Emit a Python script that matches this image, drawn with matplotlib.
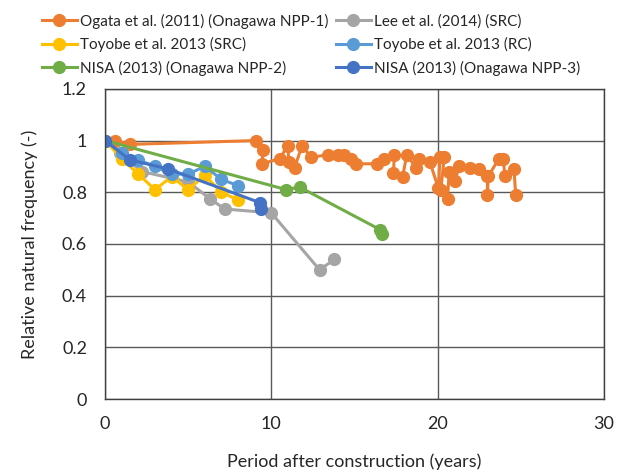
import matplotlib.pyplot as plt

# Ogata et al. (2011), Onagawa NPP-1
ogata_x = [0.6, 1.5, 9.1, 9.5, 9.45, 10.5, 11.0, 11.05, 11.4, 11.85, 12.4, 13.4, 14.0, 14.4,
           14.8, 15.1, 16.35, 16.8, 17.4, 17.35, 17.9, 18.15, 18.7, 18.9, 19.55, 20.05,
           20.15, 20.4, 20.2, 20.6, 20.7, 21.05, 21.3, 21.95, 22.5, 23.0, 23.0, 23.05,
           23.7, 23.95, 24.05, 24.6, 24.7]
ogata_y = [1.0, 0.985, 1.0, 0.965, 0.91, 0.93, 0.98, 0.915, 0.895, 0.98, 0.935, 0.945, 0.945, 0.945,
           0.93, 0.91, 0.91, 0.93, 0.945, 0.875, 0.86, 0.945, 0.895, 0.93, 0.915, 0.815,
           0.935, 0.935, 0.81, 0.775, 0.88, 0.845, 0.9, 0.895, 0.89, 0.862, 0.79, 0.862,
           0.93, 0.93, 0.862, 0.89, 0.79]

# Lee et al. (2014), SRC
lee_x = [0, 0.9, 2.2, 5.0, 6.3, 7.2, 10.0, 12.9, 13.8]
lee_y = [1.0, 0.95, 0.88, 0.84, 0.775, 0.735, 0.72, 0.50, 0.54]

# Toyobe et al. 2013
toyobe_src_x = [0, 1, 2, 3, 4, 5, 6, 7, 8]
toyobe_src_y = [1.0, 0.93, 0.87, 0.81, 0.86, 0.81, 0.865, 0.80, 0.77]
toyobe_rc_x = [0, 1, 2, 3, 4, 5, 6, 7, 8]
toyobe_rc_y = [1.0, 0.95, 0.925, 0.90, 0.87, 0.87, 0.90, 0.85, 0.825]

# NISA (2013), Onagawa NPP-2 and NPP-3
nisa2_x = [0, 10.9, 11.7, 16.55, 16.65]
nisa2_y = [1.0, 0.81, 0.82, 0.655, 0.64]
nisa3_x = [0, 1.5, 3.8, 9.3, 9.4]
nisa3_y = [1.0, 0.925, 0.89, 0.76, 0.735]

plt.rcParams['font.family'] = ['Lato', 'DejaVu Sans']

fig = plt.figure(figsize=(6.18, 4.75), dpi=100)
ax = fig.add_axes([0.170, 0.160, 0.807, 0.653])

style = dict(marker='o', markersize=8.5, linewidth=2.2)
h_ogata, = ax.plot(ogata_x, ogata_y, color='#ED7D31', label='Ogata et al. (2011) (Onagawa NPP-1)', **style)
h_lee, = ax.plot(lee_x, lee_y, color='#A5A5A5', label='Lee et al. (2014) (SRC)', **style)
h_tsrc, = ax.plot(toyobe_src_x, toyobe_src_y, color='#FFC000', label='Toyobe et al. 2013 (SRC)', **style)
h_trc, = ax.plot(toyobe_rc_x, toyobe_rc_y, color='#5B9BD5', label='Toyobe et al. 2013 (RC)', **style)
h_n2, = ax.plot(nisa2_x, nisa2_y, color='#70AD47', label='NISA (2013) (Onagawa NPP-2)', **style)
h_n3, = ax.plot(nisa3_x, nisa3_y, color='#4472C4', label='NISA (2013) (Onagawa NPP-3)', **style)

ax.set_xlim(0, 30)
ax.set_ylim(0, 1.2)
ax.set_xticks([0, 10, 20, 30])
ax.set_yticks([0, 0.2, 0.4, 0.6, 0.8, 1.0, 1.2])
ax.set_yticklabels(['0', '0.2', '0.4', '0.6', '0.8', '1', '1.2'])
ax.grid(True, color='#595959', linewidth=1.0)
ax.set_axisbelow(True)
for s in ax.spines.values():
    s.set_color('#404040')
    s.set_linewidth(1.0)
ax.tick_params(axis='x', length=0, labelsize=13, colors='#262626', pad=12)
ax.tick_params(axis='y', length=0, labelsize=13, colors='#262626', pad=13)

ax.set_xlabel('Period after construction (years)', fontsize=13, color='#262626', labelpad=16)
ax.set_ylabel('Relative natural frequency (-)', fontsize=13, color='#262626', labelpad=17)

fig.legend(handles=[h_ogata, h_tsrc, h_n2, h_lee, h_trc, h_n3], ncol=2,
           loc='upper left', bbox_to_anchor=(0.045, 1.0), frameon=False,
           fontsize=11, handlelength=2.3, handletextpad=0.2, columnspacing=0.5,
           labelspacing=0.55, labelcolor='#262626')

fig.savefig('out.png', dpi=100)
